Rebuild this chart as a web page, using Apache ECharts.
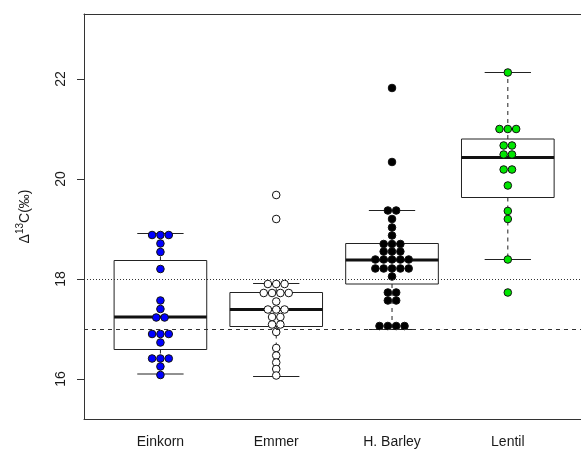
<!DOCTYPE html>
<html>
<head>
<meta charset="utf-8">
<script src="https://cdn.jsdelivr.net/npm/echarts@6/dist/echarts.min.js"></script>
<style>
  html, body { margin: 0; padding: 0; background: #fff; }
  #chart { width: 581px; height: 453px; }
</style>
</head>
<body>
<div id="chart"></div>
<script>
const categories = ['Einkorn', 'Emmer', 'H. Barley', 'Lentil'];

// point values, as they sit in the swarm
const einkorn = [18.88, 18.88, 18.88, 18.71, 18.54, 18.2, 17.57, 17.4, 17.23, 17.23,
  16.9, 16.9, 16.9, 16.73, 16.41, 16.41, 16.41, 16.25, 16.08];
const emmer = [19.68, 19.2, 17.9, 17.9, 17.9, 17.72, 17.72, 17.72, 17.72, 17.55,
  17.39, 17.39, 17.39, 17.24, 17.24, 17.09, 17.09, 16.94, 16.62, 16.47, 16.33, 16.2, 16.07];
const barley = [21.82, 20.34, 19.37, 19.37, 19.2, 19.03, 18.87, 18.7, 18.7, 18.7,
  18.55, 18.55, 18.55, 18.39, 18.39, 18.39, 18.39, 18.39, 18.21, 18.21, 18.21, 18.21, 18.21,
  18.05, 17.73, 17.73, 17.57, 17.57, 17.06, 17.06, 17.06, 17.06];
const lentil = [22.13, 21.0, 21.0, 21.0, 20.67, 20.67, 20.49, 20.49, 20.19, 20.19,
  19.87, 19.36, 19.2, 18.39, 17.73];

// box stats per group
const boxLow = [16.1, 16.05, 16.99, 18.39];
const boxQ1 = [16.59, 17.05, 17.9, 19.63];
const boxMedian = [17.24, 17.39, 18.38, 20.43];
const boxQ3 = [18.37, 17.73, 18.71, 20.8];
const boxHigh = [18.91, 17.91, 19.37, 22.13];

const yTicks = [16, 18, 20, 22];
const refDotted = 18;
const refDashed = 17;

const fillColors = ['#0000ff', '#ffffff', '#000000', '#00e600'];
const STEP = 0.072;
const FONT = 'Liberation Sans, Arial, sans-serif';

function swarm(values, pos) {
  const counts = {};
  const seen = {};
  values.forEach((v) => { counts[v] = (counts[v] || 0) + 1; });
  return values.map((v) => {
    seen[v] = seen[v] === undefined ? 0 : seen[v] + 1;
    return [pos + (seen[v] - (counts[v] - 1) / 2) * STEP, v];
  });
}

const groups = [einkorn, emmer, barley, lentil];
const boxData = categories.map((c, i) => [i + 1, boxLow[i], boxQ1[i], boxMedian[i], boxQ3[i], boxHigh[i]]);

const renderBox = (params, api) => {
  const x = api.value(0);
  const cx = api.coord([x, 0])[0];
  const yOf = (k) => api.coord([x, api.value(k)])[1];
  const lo = yOf(1), q1 = yOf(2), med = yOf(3), q3 = yOf(4), hi = yOf(5);
  const left = api.coord([x - 0.4, 0])[0];
  const right = api.coord([x + 0.4, 0])[0];
  const sl = api.coord([x - 0.2, 0])[0];
  const sr = api.coord([x + 0.2, 0])[0];
  const line = (x1, y1, x2, y2, extra) => ({
    type: 'line',
    shape: { x1, y1, x2, y2 },
    style: Object.assign({ stroke: '#222', lineWidth: 1 }, extra || {}),
  });
  return {
    type: 'group',
    children: [
      line(cx, q3, cx, hi, { lineDash: [4, 4] }),
      line(cx, q1, cx, lo, { lineDash: [4, 4] }),
      line(sl, hi, sr, hi),
      line(sl, lo, sr, lo),
      {
        type: 'rect',
        shape: { x: left, y: q3, width: right - left, height: q1 - q3 },
        style: { fill: 'none', stroke: '#222', lineWidth: 1 },
      },
      line(left, med, right, med, { lineWidth: 3, stroke: '#111' }),
    ],
  };
};

const chart = echarts.init(document.getElementById('chart'));

const frameLine = { show: true, lineStyle: { color: '#333', width: 1 } };

const option = {
  animation: false,
  textStyle: { fontFamily: FONT },
  grid: { left: 84, top: 14, right: 0, height: 405 },
  xAxis: [
    {
      type: 'value',
      min: 0.34,
      max: 4.632,
      axisLine: Object.assign({ onZero: false }, frameLine),
      axisTick: { show: false },
      splitLine: { show: false },
      axisLabel: {
        customValues: [1, 2, 3, 4],
        formatter: (v) => categories[Math.round(v) - 1] || '',
        fontSize: 14,
        color: '#1a1a1a',
        margin: 16,
      },
    },
    {
      type: 'value',
      position: 'top',
      min: 0.34,
      max: 4.632,
      axisLine: Object.assign({ onZero: false }, frameLine),
      axisTick: { show: false },
      axisLabel: { show: false },
      splitLine: { show: false },
    },
  ],
  yAxis: {
    type: 'value',
    min: 15.2,
    max: 23.3,
    name: '{d|Δ}{s|13}{d|C(‰)}',
    nameLocation: 'middle',
    nameGap: 49,
    nameRotate: 90,
    nameTextStyle: {
      color: '#1a1a1a',
      rich: {
        d: { fontSize: 14, lineHeight: 20, fontFamily: FONT, color: '#1a1a1a' },
        s: { fontSize: 10, lineHeight: 10, verticalAlign: 'top', fontFamily: FONT, color: '#1a1a1a' },
      },
    },
    axisLine: Object.assign({ onZero: false }, frameLine),
    splitLine: { show: false },
    axisTick: {
      customValues: yTicks,
      length: 7,
      lineStyle: { color: '#333' },
    },
    axisLabel: {
      customValues: yTicks,
      rotate: 90,
      fontSize: 14,
      color: '#1a1a1a',
      margin: 16,
    },
  },
  series: [
    {
      type: 'custom',
      data: boxData,
      encode: { x: 0, y: [1, 5] },
      renderItem: renderBox,
      z: 2,
      silent: true,
      markLine: {
        silent: true,
        symbol: ['none', 'none'],
        label: { show: false },
        lineStyle: { color: '#333', width: 1 },
        data: [
          { yAxis: refDotted, lineStyle: { type: [1, 2], color: '#333', width: 1 } },
          { yAxis: refDashed, lineStyle: { type: [4, 4], color: '#333', width: 1 } },
        ],
      },
    },
  ].concat(groups.map((vals, i) => ({
    type: 'scatter',
    name: categories[i],
    data: swarm(vals, i + 1),
    symbolSize: 7.6,
    z: 3,
    itemStyle: {
      color: fillColors[i],
      borderColor: '#111',
      borderWidth: 1,
      opacity: 1,
    },
  }))),
};

option && chart.setOption(option);
</script>
</body>
</html>
